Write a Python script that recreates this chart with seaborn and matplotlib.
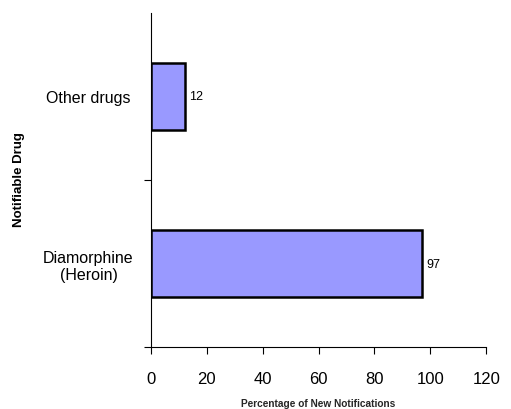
import pandas as pd
import seaborn as sns
import matplotlib.pyplot as plt

# data
drugs = ['Other drugs', 'Diamorphine\n(Heroin)']
percent = [12, 97]
x_ticks = [0, 20, 40, 60, 80, 100, 120]

df = pd.DataFrame({'drug': drugs, 'percent': percent})

sns.set_style('white')
plt.rcParams['font.family'] = ['Liberation Sans', 'DejaVu Sans']
plt.rcParams['text.color'] = 'black'
plt.rcParams['xtick.color'] = 'black'
plt.rcParams['ytick.color'] = 'black'

fig = plt.figure(figsize=(5.11, 4.10), dpi=100)
ax = fig.add_axes([0.2955, 0.151, 0.656, 0.815])

sns.barplot(data=df, x='percent', y='drug', orient='h', width=0.4,
            color='#9999FF', saturation=1, edgecolor='black', linewidth=1.8, ax=ax)

# value labels at bar ends
for i, v in enumerate(percent):
    ax.text(v + 1.5, i, str(v), va='center', ha='left', fontsize=9)

ax.set_xlim(0, 120)
ax.set_ylim(1.5, -0.5)
ax.set_xticks(x_ticks)
ax.set_xticklabels([str(t) for t in x_ticks], fontsize=12)

# category boundaries as major ticks, labels on minor ticks
ax.set_yticks([0.5, 1.5])
ax.set_yticklabels(['', ''])
ax.set_yticks([0, 1], minor=True)
ax.set_yticklabels(drugs, minor=True, fontsize=11.5, ha='center', multialignment='center')
ax.tick_params(axis='y', which='minor', length=0, pad=45)
ax.tick_params(axis='y', which='major', length=5, width=0.8, direction='out', left=True)
ax.tick_params(axis='x', length=5, width=0.8, direction='out', bottom=True, pad=12)

for side in ['top', 'right']:
    ax.spines[side].set_visible(False)
for side in ['left', 'bottom']:
    ax.spines[side].set_color('black')
    ax.spines[side].set_linewidth(0.8)

ax.set_xlabel('Percentage of New Notifications', fontsize=7.3, fontweight='bold', labelpad=9)
ax.set_ylabel('')
fig.text(0.037, 0.563, 'Notifiable Drug', rotation=90, ha='center', va='center',
         fontsize=9.5, fontweight='bold')

fig.savefig('out.png', dpi=100)
